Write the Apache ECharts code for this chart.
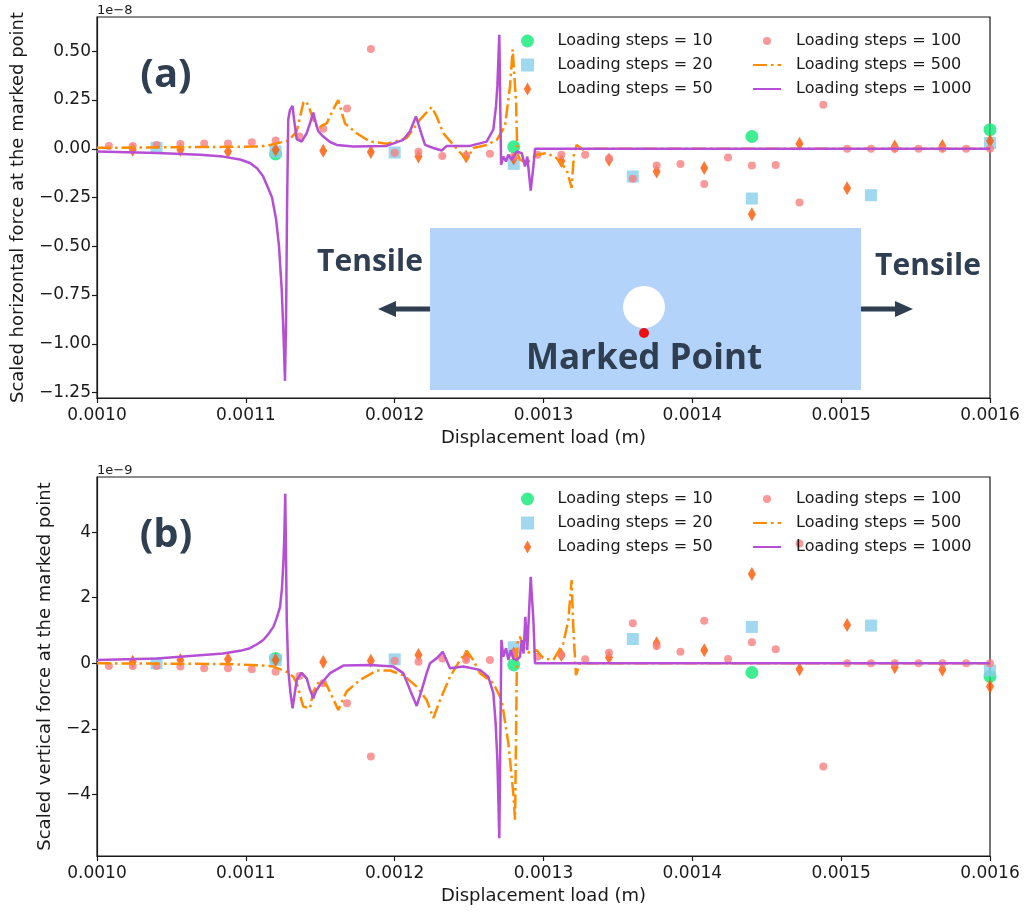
<!DOCTYPE html>
<html>
<head>
<meta charset="utf-8">
<title>Scaled force at the marked point</title>
<script src="https://cdn.jsdelivr.net/npm/echarts@6/dist/echarts.min.js"></script>
<style>
  html, body { margin: 0; padding: 0; background: #fff; }
  #chart { width: 1026px; height: 912px; }
</style>
</head>
<body>
<div id="chart"></div>
<script>
// displacement load (m) for each loading-step setting
var x10 = [0.00112, 0.00128, 0.00144, 0.0016];
var x20 = [0.00104, 0.00112, 0.0012, 0.00128, 0.00136, 0.00144, 0.00152, 0.0016];
var x50 = [0.001024, 0.001056, 0.001088, 0.00112, 0.001152, 0.001184, 0.001216, 0.001248,
  0.00128, 0.001312, 0.001344, 0.001376, 0.001408, 0.00144, 0.001472, 0.001504,
  0.001536, 0.001568, 0.0016];
var x100 = [0.001008, 0.001024, 0.00104, 0.001056, 0.001072, 0.001088, 0.001104, 0.00112,
  0.001136, 0.001152, 0.001168, 0.001184, 0.0012, 0.001216, 0.001232, 0.001248,
  0.001264, 0.00128, 0.001296, 0.001312, 0.001328, 0.001344, 0.00136, 0.001376,
  0.001392, 0.001408, 0.001424, 0.00144, 0.001456, 0.001472, 0.001488, 0.001504,
  0.00152, 0.001536, 0.001552, 0.001568, 0.001584, 0.0016];

// (a) horizontal force, x 1e-8
var h10 = [-0.026, 0.01, 0.063, 0.098];
var h20 = [0.005, -0.014, -0.019, -0.077, -0.142, -0.255, -0.238, 0.03];
var h50 = [-0.005, -0.005, -0.014, -0.005, -0.01, -0.017, -0.04, -0.04, -0.05, -0.062,
  -0.056, -0.116, -0.099, -0.335, 0.026, -0.202, 0.012, 0.015, 0.04];
var h100 = [0.015, 0.015, 0.02, 0.025, 0.027, 0.027, 0.034, 0.043, 0.063, 0.103, 0.207,
  0.512, -0.02, -0.015, -0.037, -0.034, -0.025, -0.04, -0.03, -0.03, -0.03, -0.048,
  -0.154, -0.085, -0.078, -0.181, -0.044, -0.085, -0.083, -0.275, 0.226, 0, 0, 0, 0, 0, 0, 0];
var h500 = [
  [0.001, 0.005], [0.0010847, 0.01], [0.0011095, 0.012], [0.0011162, 0.02], [0.0011275, 0.04],
  [0.0011297, 0.05], [0.0011342, 0.09], [0.0011386, 0.235], [0.0011405, 0.245], [0.0011431, 0.2],
  [0.0011453, 0.15], [0.0011487, 0.1], [0.0011512, 0.12], [0.0011543, 0.13], [0.0011586, 0.2],
  [0.0011621, 0.25], [0.0011666, 0.13], [0.0011745, 0.08], [0.0011834, 0.037], [0.0011946, 0.026],
  [0.0012081, 0.055], [0.001217, 0.15], [0.0012249, 0.214], [0.0012282, 0.166], [0.0012327, 0.08],
  [0.0012394, 0.02], [0.0012484, -0.056], [0.0012528, 0.004], [0.0012618, 0.02], [0.0012686, 0.046],
  [0.0012741, 0.115], [0.0012775, 0.32], [0.0012793, 0.51], [0.0012802, 0.52], [0.0012816, 0.235],
  [0.0012824, -0.022], [0.0012842, -0.056], [0.0012887, -0.073], [0.0012954, -0.03], [0.0013021, -0.022],
  [0.0013088, -0.048], [0.0013156, -0.108], [0.0013189, -0.2], [0.0013205, -0.022], [0.0013223, 0.02],
  [0.0013267, -0.005], [0.0013312, 0.0], [0.0016, 0.0]
];
var h1000 = [
  [0.001, -0.014], [0.0010403, -0.022], [0.0010694, -0.03], [0.0010847, -0.04], [0.0010961, -0.055],
  [0.0011028, -0.073], [0.0011075, -0.1], [0.0011115, -0.14], [0.0011149, -0.2], [0.0011176, -0.25],
  [0.0011203, -0.36], [0.0011223, -0.5], [0.0011241, -0.72], [0.0011253, -0.95],
  [0.0011263, -1.19], [0.001127, -0.9], [0.0011277, -0.3], [0.0011285, 0.15], [0.0011297, 0.2],
  [0.0011314, 0.22], [0.0011324, 0.15], [0.0011342, 0.05], [0.0011375, 0.037], [0.0011409, 0.08],
  [0.0011431, 0.13], [0.0011453, 0.186], [0.0011471, 0.13], [0.0011487, 0.09], [0.001152, 0.063],
  [0.0011566, 0.035], [0.0011611, 0.02], [0.0011722, 0.012], [0.0011946, 0.015], [0.0012058, 0.046],
  [0.0012103, 0.09], [0.0012143, 0.166], [0.0012182, 0.072], [0.0012204, 0.02], [0.001226, 0.004],
  [0.0012316, -0.009], [0.001235, 0.015], [0.0012506, 0.015], [0.0012618, 0.037], [0.0012663, 0.1],
  [0.0012681, 0.22], [0.001269, 0.32], [0.0012703, 0.585], [0.0012715, -0.082], [0.001273, -0.04],
  [0.0012748, -0.065], [0.0012764, -0.03], [0.0012786, -0.056], [0.001282, -0.014], [0.0012854, -0.022],
  [0.0012876, -0.09], [0.0012891, -0.04], [0.0012914, -0.214], [0.0012932, -0.09], [0.0012943, 0.0],
  [0.0016, 0.0]
];

// (b) vertical force, x 1e-9
var v10 = [0.15, -0.05, -0.28, -0.4];
var v20 = [0.0, 0.1, 0.12, 0.49, 0.74, 1.11, 1.15, -0.22];
var v50 = [0.05, 0.1, 0.12, 0.1, 0.04, 0.08, 0.25, 0.2, 0.3, 0.25, 0.18, 0.61, 0.4, 2.72,
  -0.18, 1.17, -0.12, -0.2, -0.71];
var v100 = [-0.08, -0.08, -0.08, -0.1, -0.15, -0.15, -0.18, -0.26, -0.39, -0.61, -1.22,
  -2.84, 0.08, 0.05, 0.15, 0.1, 0.1, 0.3, 0.2, 0.25, 0.12, 0.32, 1.22, 0.53, 0.35, 1.3,
  0.13, 0.64, 0.43, 3.65, -3.15, 0, 0, 0, 0, 0, 0, 0];
var v500 = [
  [0.001, 0.0], [0.0010847, -0.02], [0.0011095, -0.06], [0.0011185, -0.1], [0.0011275, -0.26],
  [0.0011319, -0.41], [0.0011342, -0.61], [0.0011386, -1.32], [0.0011431, -1.37], [0.0011453, -0.86],
  [0.0011498, -0.51], [0.0011543, -0.66], [0.0011621, -1.42], [0.0011677, -0.86], [0.0011767, -0.51],
  [0.0011879, -0.22], [0.0011969, -0.22], [0.0012058, -0.36], [0.0012148, -0.71], [0.0012215, -1.12],
  [0.001226, -1.67], [0.0012305, -1.12], [0.0012372, -0.41], [0.0012439, 0.1], [0.0012484, 0.38],
  [0.0012528, 0.1], [0.0012573, -0.3], [0.0012663, -0.61], [0.0012719, -1.12], [0.0012764, -2.44],
  [0.0012797, -3.96], [0.0012809, -4.77], [0.001282, -0.41], [0.0012824, 0.61], [0.0012842, 0.81],
  [0.0012864, 0.5], [0.0012909, 0.3], [0.0012954, 0.4], [0.0012999, 0.15], [0.0013066, 0.1],
  [0.0013133, 0.61], [0.0013167, 1.32], [0.0013189, 2.54], [0.00132, 1.11], [0.0013218, -0.36],
  [0.0013245, 0.0], [0.0016, 0.0]
];
var v1000 = [
  [0.001, 0.1], [0.0010403, 0.15], [0.0010558, 0.2], [0.0010847, 0.3], [0.0010961, 0.38],
  [0.0011028, 0.46], [0.0011075, 0.58], [0.0011117, 0.71], [0.0011149, 0.88], [0.0011185, 1.11],
  [0.0011209, 1.4], [0.001123, 1.72], [0.0011243, 2.3], [0.0011252, 3.04], [0.0011258, 3.8],
  [0.0011265, 5.17], [0.0011275, 1.32],
  [0.0011285, -0.2], [0.00113, -0.9], [0.0011314, -1.37], [0.0011342, -0.51], [0.0011375, -0.29],
  [0.0011409, -0.46], [0.0011431, -0.8], [0.0011453, -1.07], [0.0011471, -0.85], [0.0011498, -0.66],
  [0.0011566, -0.3], [0.0011655, -0.07], [0.0011834, -0.05], [0.0011991, -0.1], [0.0012058, -0.3],
  [0.0012103, -0.81], [0.0012148, -1.3], [0.0012182, -0.81], [0.0012215, -0.3], [0.0012237, 0.0],
  [0.0012282, 0.15], [0.0012323, 0.35], [0.0012372, -0.15], [0.0012461, -0.1], [0.0012573, -0.2],
  [0.0012629, -0.41], [0.0012663, -0.91], [0.0012678, -1.8], [0.001269, -2.94], [0.0012703, -5.33],
  [0.0012717, 0.71], [0.001273, 0.2], [0.0012748, 0.46], [0.0012764, 0.1], [0.001278, 0.4],
  [0.0012797, 0.15], [0.001282, 0.1], [0.0012842, 0.2], [0.0012854, 0.71], [0.0012866, 0.3],
  [0.0012878, 1.42], [0.0012891, 0.4], [0.0012914, 2.64], [0.0012932, 1.32], [0.0012943, 0.0],
  [0.0016, 0.0]
];

// tick labels
var xTicks = [0.001, 0.0011, 0.0012, 0.0013, 0.0014, 0.0015, 0.0016];
var yTicksA = [-1.25, -1, -0.75, -0.5, -0.25, 0, 0.25, 0.5];
var yTicksB = [-4, -2, 0, 2, 4];

var names = ['Loading steps = 10', 'Loading steps = 20', 'Loading steps = 50',
  'Loading steps = 100', 'Loading steps = 500', 'Loading steps = 1000'];

var FONT = 'DejaVu Sans';
var INK = '#1a1a1a';
var SLATE = '#2f3e50';
var diamondIcon = 'path://M4,0L8,7L4,14L0,7Z';
var squareIcon = 'path://M0,0H10V10H0Z';

function zip(xs, ys) {
  return xs.map(function (x, i) { return [x, ys[i]]; });
}
function minus(s) { return String(s).replace('-', '\u2212'); }

function xAxis(gridIndex) {
  return {
    type: 'value', gridIndex: gridIndex, min: 0.001, max: 0.0016,
    name: 'Displacement load (m)', nameLocation: 'middle', nameGap: 31,
    nameTextStyle: { fontFamily: FONT, fontSize: 18, color: INK },
    axisLine: { onZero: false, lineStyle: { color: INK, width: 1.2 } },
    axisTick: { length: 5, lineStyle: { color: INK, width: 1.2 }, customValues: xTicks },
    axisLabel: { customValues: xTicks, margin: 9, fontFamily: FONT, fontSize: 17, color: INK,
      formatter: function (v) { return v.toFixed(4); } },
    splitLine: { show: false }
  };
}
function yAxis(gridIndex, min, max, ticks, name, gap, digits) {
  return {
    type: 'value', gridIndex: gridIndex, min: min, max: max,
    name: name, nameLocation: 'middle', nameGap: gap, nameRotate: 90,
    nameTextStyle: { fontFamily: FONT, fontSize: 18, color: INK },
    axisLine: { show: true, onZero: false, lineStyle: { color: INK, width: 1.2 } },
    axisTick: { show: true, length: 5, lineStyle: { color: INK, width: 1.2 }, customValues: ticks },
    axisLabel: { customValues: ticks, margin: 6, fontFamily: FONT, fontSize: 17, color: INK,
      formatter: function (v) { return minus(v.toFixed(digits)); } },
    splitLine: { show: false }
  };
}

function panelSeries(k, y10, y20, y50, y100, l500, l1000) {
  return [
    { name: names[0], type: 'scatter', xAxisIndex: k, yAxisIndex: k, data: zip(x10, y10),
      symbol: 'circle', symbolSize: 13, itemStyle: { color: '#0fe978' } },
    { name: names[1], type: 'scatter', xAxisIndex: k, yAxisIndex: k, data: zip(x20, y20),
      symbol: 'rect', symbolSize: 12, itemStyle: { color: '#87ceeb' } },
    { name: names[2], type: 'scatter', xAxisIndex: k, yAxisIndex: k, data: zip(x50, y50),
      symbol: 'diamond', symbolSize: [8, 14], itemStyle: { color: '#ff5500' } },
    { name: names[3], type: 'scatter', xAxisIndex: k, yAxisIndex: k, data: zip(x100, y100),
      symbol: 'circle', symbolSize: 8, itemStyle: { color: '#f88080' } },
    { name: names[4], type: 'line', xAxisIndex: k, yAxisIndex: k, data: l500,
      showSymbol: false, symbol: 'none', itemStyle: { color: '#ff8c00' },
      lineStyle: { color: '#ff8c00', width: 2.5, type: [14, 4, 2.5, 4] } },
    { name: names[5], type: 'line', xAxisIndex: k, yAxisIndex: k, data: l1000,
      showSymbol: false, symbol: 'none', itemStyle: { color: '#b54fd5' },
      lineStyle: { color: '#b54fd5', width: 2.5 } }
  ];
}

function legends(top) {
  var text = { fontFamily: FONT, fontSize: 16, color: INK, lineHeight: 16 };
  var noDot = { opacity: 0 };
  return [
    // marker-only column: its icons are narrower than itemWidth, so the box starts further right
    { orient: 'vertical', left: 521, top: top, padding: 0, itemWidth: 28, itemHeight: 13, itemGap: 8,
      selectedMode: false,
      textStyle: Object.assign({ padding: [0, 0, 0, 11] }, text),
      data: [names[0], { name: names[1], icon: squareIcon }, { name: names[2], icon: diamondIcon }] },
    { orient: 'vertical', left: 752, top: top, padding: 0, itemWidth: 28, itemHeight: 8, itemGap: 8,
      selectedMode: false,
      textStyle: Object.assign({ padding: [0, 0, 0, 10] }, text),
      data: [names[3], { name: names[4], itemStyle: noDot }, { name: names[5], itemStyle: noDot }] }
  ];
}

var boldText = function (x, y, s, size) {
  return { type: 'text', x: x, y: y, silent: true,
    style: { text: s, fill: SLATE, font: 'bold ' + size + 'px "Open Sans", "DejaVu Sans", sans-serif',
      align: 'center', verticalAlign: 'middle' } };
};

var chart = echarts.init(document.getElementById('chart'), null, { renderer: 'canvas' });
chart.setOption({
  animation: false,
  backgroundColor: '#fff',
  grid: [
    { left: 97, top: 17, width: 893, height: 381, show: true, borderColor: INK, borderWidth: 1.2, backgroundColor: 'transparent' },
    { left: 97, top: 477, width: 893, height: 379, show: true, borderColor: INK, borderWidth: 1.2, backgroundColor: 'transparent' }
  ],
  xAxis: [xAxis(0), xAxis(1)],
  yAxis: [
    yAxis(0, -1.278, 0.676, yTicksA, 'Scaled horizontal force at the marked point', 70, 2),
    yAxis(1, -5.875, 5.68, yTicksB, 'Scaled vertical force at the marked point', 43, 0)
  ],
  legend: legends(33).concat(legends(491)),
  series: panelSeries(0, h10, h20, h50, h100, h500, h1000)
    .concat(panelSeries(1, v10, v20, v50, v100, v500, v1000)),
  graphic: [
    { type: 'text', x: 97, y: 4, style: { text: '1e\u22128', fill: INK, font: '13px "DejaVu Sans"' } },
    { type: 'text', x: 97, y: 464, style: { text: '1e\u22129', fill: INK, font: '13px "DejaVu Sans"' } },
    boldText(166, 76, '(a)', 40),
    boldText(166, 536, '(b)', 40),
    // inset sketch of the plate under tension
    { type: 'rect', shape: { x: 430, y: 228, width: 431, height: 162 }, style: { fill: '#b4d3fa' } },
    { type: 'circle', shape: { cx: 644, cy: 307, r: 21 }, style: { fill: '#fff' } },
    { type: 'circle', shape: { cx: 644, cy: 333, r: 5 }, style: { fill: '#ee1111' } },
    boldText(644, 359, 'Marked Point', 35),
    boldText(370, 262, 'Tensile', 30),
    boldText(928, 266, 'Tensile', 30),
    { type: 'line', shape: { x1: 430, y1: 309, x2: 392, y2: 309 }, style: { stroke: SLATE, lineWidth: 5 } },
    { type: 'polygon', shape: { points: [[378, 309], [396, 301], [396, 317]] }, style: { fill: SLATE } },
    { type: 'line', shape: { x1: 861, y1: 309, x2: 899, y2: 309 }, style: { stroke: SLATE, lineWidth: 5 } },
    { type: 'polygon', shape: { points: [[913, 309], [895, 301], [895, 317]] }, style: { fill: SLATE } }
  ]
});
</script>
</body>
</html>
